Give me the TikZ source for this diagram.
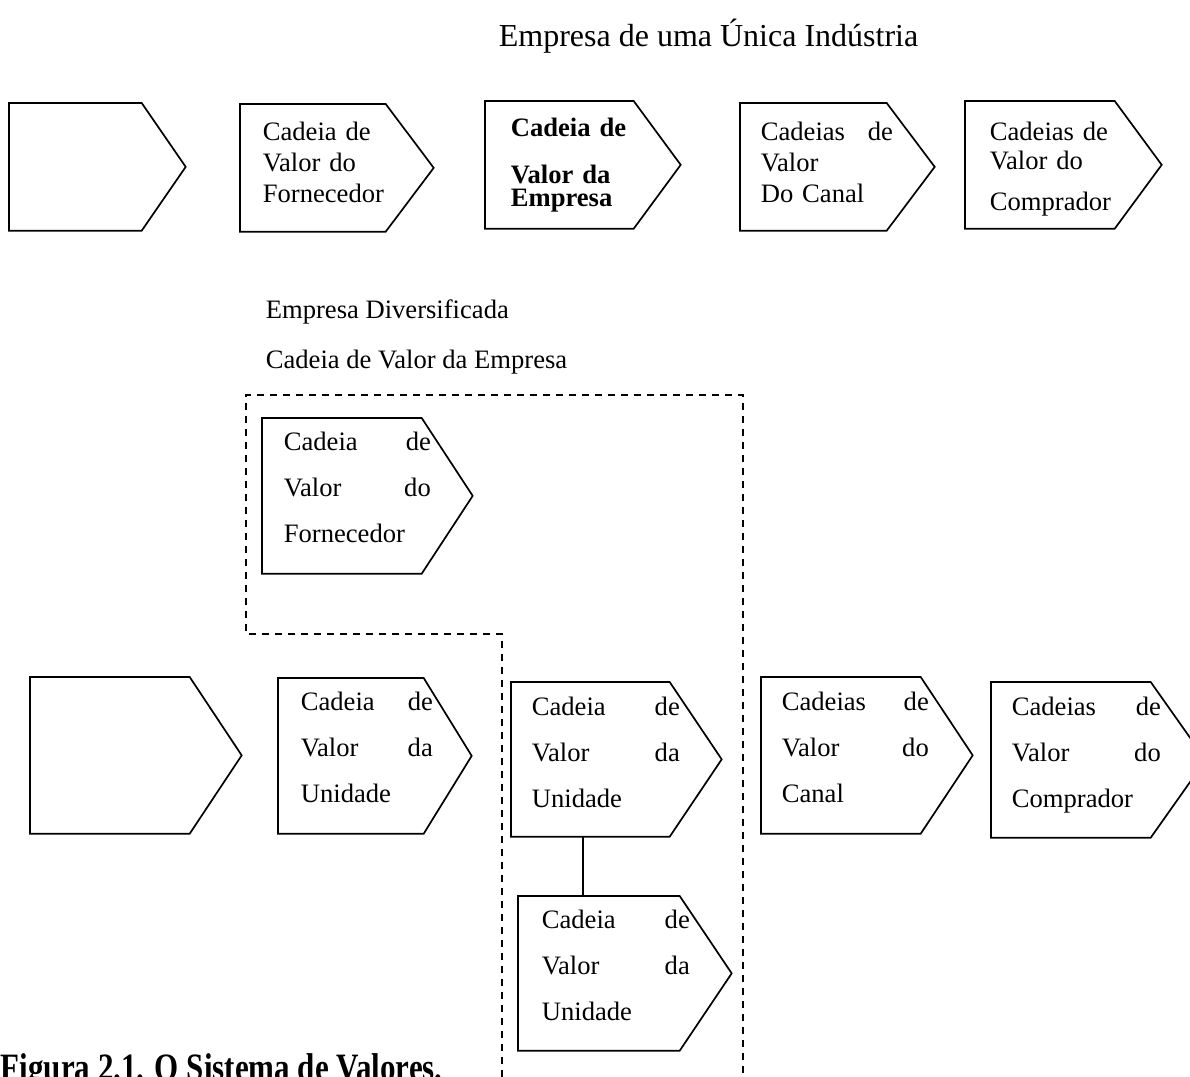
\documentclass[tikz,border=0pt]{standalone}
\usepackage{fontspec}
\usepackage{graphicx}
\setmainfont{Liberation Serif}

\tikzset{
  corpo/.style n args={2}{minimum width=#1*0.5pt,minimum height=#2*0.5pt,inner sep=0pt,anchor=north west},
  rotulo/.style={anchor=base west,inner sep=0pt,align=left,text width=#1*0.5pt,font=\fontsize{13.3}{23}\selectfont},
  solto/.style={anchor=base west,inner sep=0pt,font=\fontsize{13.3}{16}\selectfont},
  tracejado/.style={line width=0.6pt,dash pattern=on 3.5pt off 3pt},
}

\begin{document}
\begin{tikzpicture}[x=0.5pt,y=-0.5pt,line width=0.85pt]
  \useasboundingbox (0,0) rectangle (1190,1077);
  % titulos
  \node[solto,font=\fontsize{16}{19}\selectfont] (titulo) at (498,46) {Empresa de uma Única Indústria};
  \node[solto] (diversa) at (265,318) {Empresa Diversificada};
  \node[solto] (cadeia) at (265,368) {Cadeia de Valor da Empresa};
  \node[solto,font=\bfseries\fontsize{15.5}{18}\selectfont] (legenda) at (0,1080) {\scalebox{1}[1.25]{Figura 2.1. O Sistema de Valores.}};
  % corpos das setas
  \node[corpo={131}{126}] (vazio1) at (9,103) {};
  \node[corpo={144}{126}] (fornec1) at (240,104) {};
  \node[corpo={147}{126}] (empresa1) at (485,101) {};
  \node[corpo={145}{126}] (canal1) at (740,103) {};
  \node[corpo={148}{126}] (comprad1) at (965,101) {};
  \node[corpo={158}{154}] (fornec2) at (262,418) {};
  \node[corpo={158}{155}] (vazio2) at (30,677) {};
  \node[corpo={144}{154}] (unidA) at (278,678) {};
  \node[corpo={157}{153}] (unidB) at (511,682) {};
  \node[corpo={158}{155}] (canal2) at (761,677) {};
  \node[corpo={158}{154}] (comprad2) at (991,682) {};
  \node[corpo={160}{153}] (unidC) at (518,896) {};
  % contorno com ponta
  \foreach \n/\p in {vazio1/44,fornec1/48,empresa1/47,canal1/48,comprad1/47,fornec2/51,vazio2/52,unidA/48,unidB/52,canal2/52,comprad2/55,unidC/52}
    \draw (\n.north west) -- (\n.north east) -- ([xshift=\p*0.5pt]\n.east) -- (\n.south east) -- (\n.south west) -- cycle;
  % textos
  \node[rotulo=130,font=\fontsize{13.3}{15.5}\selectfont] (txF1) at (262,140) {Cadeia de\\Valor do\\Fornecedor};
  \node[rotulo=130,font=\bfseries\fontsize{13.3}{11.5}\selectfont] (txE1) at (510,136) {Cadeia de\\[12pt]Valor da\\Empresa};
  \node[rotulo=132,font=\fontsize{13.3}{15.5}\selectfont] (txC1) at (760,140) {Cadeias\hfill de\\Valor\\Do Canal};
  \node[rotulo=130,font=\fontsize{13.3}{14.5}\selectfont] (txP1) at (989,140) {Cadeias de\\Valor do\\[6pt]Comprador};
  \node[rotulo=147] (txF2) at (283,450) {Cadeia\hfill de\\Valor\hfill do\\Fornecedor};
  \node[rotulo=132] (txUA) at (300,710) {Cadeia\hfill de\\Valor\hfill da\\Unidade};
  \node[rotulo=148] (txUB) at (531,715) {Cadeia\hfill de\\Valor\hfill da\\Unidade};
  \node[rotulo=147] (txC2) at (781,710) {Cadeias\hfill de\\Valor\hfill do\\Canal};
  \node[rotulo=149] (txP2) at (1011,715) {Cadeias\hfill de\\Valor\hfill do\\Comprador};
  \node[rotulo=148] (txUC) at (541,928) {Cadeia\hfill de\\Valor\hfill da\\Unidade};
  % empresa diversificada
  \draw[tracejado] (502,1077) -- (502,634) -- (246,634) -- (246,395) -- (743,395) -- (743,1077);
  \draw ([xshift=-3.75pt]unidB.south) -- ([xshift=-8pt]unidC.north);
\end{tikzpicture}
\end{document}
